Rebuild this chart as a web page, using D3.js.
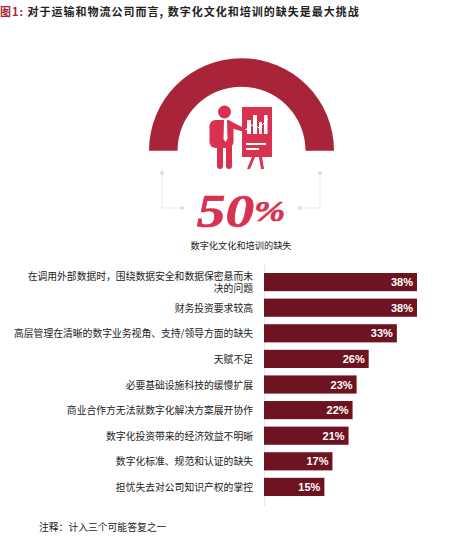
<!DOCTYPE html>
<html>
<head>
<meta charset="utf-8">
<script src="https://cdn.jsdelivr.net/npm/d3@7"></script>
<style>
  html, body { margin: 0; background: #fff; }
  text { font-family: "Noto Sans CJK SC", sans-serif; }
</style>
</head>
<body>
<div id="chart"></div>
<script>
var categories = [
    ["在调用外部数据时，围绕数据安全和数据保密悬而未", "决的问题"],
    ["财务投资要求较高"],
    ["高层管理在清晰的数字业务视角、支持/领导方面的缺失"],
    ["天赋不足"],
    ["必要基础设施科技的缓慢扩展"],
    ["商业合作方无法就数字化解决方案展开协作"],
    ["数字化投资带来的经济效益不明晰"],
    ["数字化标准、规范和认证的缺失"],
    ["担忧失去对公司知识产权的掌控"]
];
var values = [38, 38, 33, 26, 23, 22, 21, 17, 15];
var gaugeValue = 50;
var gaugeLabel = "数字化文化和培训的缺失";
var titlePrefix = "图1: ";
var titleText = "对于运输和物流公司而言, 数字化文化和培训的缺失是最大挑战";
var noteText = "注释：计入三个可能答复之一";

var width = 473, height = 552;
var barColor = "#6e1420", arcColor = "#a92438", iconColor = "#d9314f";

var svg = d3.select("#chart").append("svg")
    .attr("width", width)
    .attr("height", height)
    .style("display", "block");

// title
var title = svg.append("text")
    .attr("x", 0)
    .attr("y", 16)
    .style("font-size", "11px")
    .style("font-weight", 700)
    .style("letter-spacing", "1px");
title.append("tspan").attr("fill", "#a92438").text(titlePrefix);
title.append("tspan").attr("fill", "#222").text(titleText);

// half donut
var arc = d3.arc()
    .innerRadius(64)
    .outerRadius(92.5)
    .startAngle(-Math.PI / 2)
    .endAngle(Math.PI / 2);
svg.append("path")
    .attr("transform", "translate(241.5,150.7)")
    .attr("d", arc())
    .attr("fill", arcColor);

// presenter icon
var icon = svg.append("g").attr("fill", iconColor).attr("stroke", "none");
icon.append("circle").attr("cx", 224.5).attr("cy", 112).attr("r", 6.5);
icon.append("rect").attr("x", 209.5).attr("y", 120).attr("width", 24).attr("height", 28).attr("rx", 6);
icon.append("rect").attr("x", 217).attr("y", 140).attr("width", 6).attr("height", 29).attr("rx", 3);
icon.append("rect").attr("x", 226).attr("y", 140).attr("width", 6).attr("height", 29).attr("rx", 3);
icon.append("path").attr("d", "M232 122L246 129L245 132L230 128Z");
icon.append("path").attr("d", "M224 120L227 120L227.5 139L225.5 142L223.5 139Z").attr("fill", "#fff");
icon.append("rect").attr("x", 242).attr("y", 107).attr("width", 30).attr("height", 50);
icon.append("path").attr("d", "M252 157L255 157L250 169L247 169Z");
icon.append("path").attr("d", "M259 157L262 157L264 169L261 169Z");
var chartBars = icon.append("g").attr("fill", "#fff");
chartBars.append("rect").attr("x", 247).attr("y", 120).attr("width", 4).attr("height", 14);
chartBars.append("rect").attr("x", 253).attr("y", 115).attr("width", 4).attr("height", 19);
chartBars.append("rect").attr("x", 259).attr("y", 122).attr("width", 3).attr("height", 12);
chartBars.append("rect").attr("x", 264).attr("y", 115).attr("width", 3.5).attr("height", 19);
chartBars.append("rect").attr("x", 246).attr("y", 143).attr("width", 20).attr("height", 2);
chartBars.append("rect").attr("x", 246).attr("y", 148).attr("width", 13).attr("height", 2);
icon.append("path")
    .attr("d", "M245 130L254 124L259 128L268 119")
    .attr("fill", "none")
    .attr("stroke", "#fff")
    .attr("stroke-width", 1);

// connector lines either side of the big number
var connectors = svg.append("g");
[[162, 173, 162, 208, 182, 208], [320, 173, 320, 208, 300, 208]].forEach(function(c) {
    connectors.append("path")
        .attr("d", d3.line()([[c[0], c[1]], [c[2], c[3]], [c[4], c[5]]]))
        .attr("fill", "none")
        .attr("stroke", "#e4e4e4")
        .attr("stroke-width", 0.8);
    connectors.append("circle").attr("cx", c[0]).attr("cy", c[1]).attr("r", 2).attr("fill", "#ddd");
    connectors.append("circle").attr("cx", c[4]).attr("cy", c[5]).attr("r", 2).attr("fill", "#ddd");
});

// big number, stretched to get the wide display face of the original
var bigNumber = svg.append("text")
    .attr("transform", "translate(241,227) scale(1.25,1)")
    .attr("text-anchor", "middle")
    .attr("fill", "#d9314f")
    .attr("stroke", "#d9314f")
    .attr("stroke-width", 0.6)
    .style("font-family", "'Liberation Serif', serif")
    .style("font-size", "46px")
    .style("font-weight", 700)
    .style("font-style", "italic");
bigNumber.append("tspan").text(gaugeValue);
bigNumber.append("tspan").attr("dy", -6).style("font-size", "30px").text("%");

svg.append("text")
    .attr("x", 241)
    .attr("y", 249)
    .attr("text-anchor", "middle")
    .attr("fill", "#222")
    .style("font-size", "9.2px")
    .text(gaugeLabel);

// bars
var x = d3.scaleLinear().domain([0, 38]).range([264, 417]);
var y = d3.scaleBand()
    .domain(d3.range(values.length))
    .range([273, 496])
    .paddingInner(0.29);

svg.append("g")
    .attr("transform", "translate(264,0)")
    .call(d3.axisLeft(d3.scaleLinear().range([264, 505])).ticks(0).tickSize(0))
    .select("path")
    .attr("stroke", "#ccc")
    .attr("stroke-dasharray", "1 1");

svg.selectAll(".bar")
    .data(values)
    .enter().append("rect")
    .attr("class", "bar")
    .attr("x", x(0))
    .attr("y", function(d, i) { return y(i); })
    .attr("width", function(d) { return x(d) - x(0); })
    .attr("height", y.bandwidth())
    .attr("fill", barColor);

svg.selectAll(".val")
    .data(values)
    .enter().append("text")
    .attr("class", "val")
    .attr("x", function(d) { return x(d) - 4; })
    .attr("y", function(d, i) { return y(i) + y.bandwidth() / 2 + 4; })
    .attr("text-anchor", "end")
    .attr("fill", "#fff")
    .style("font-family", "'Liberation Sans', sans-serif")
    .style("font-size", "11px")
    .style("font-weight", 700)
    .text(function(d) { return d + "%"; });

// category labels, right aligned
categories.forEach(function(lines, i) {
    var mid = y(i) + y.bandwidth() / 2;
    lines.forEach(function(line, j) {
        svg.append("text")
            .attr("x", 253)
            .attr("y", mid + 4 + (j - (lines.length - 1) / 2) * 12.5)
            .attr("text-anchor", "end")
            .attr("fill", "#222")
            .style("font-size", "9.8px")
            .text(line);
    });
});

svg.append("text")
    .attr("x", 39)
    .attr("y", 531)
    .attr("fill", "#222")
    .style("font-size", "9.8px")
    .text(noteText);
</script>
</body>
</html>
